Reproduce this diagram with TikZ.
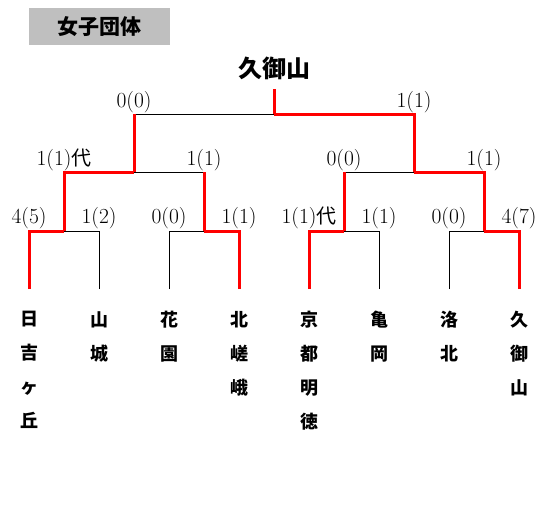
\documentclass[tikz,border=0pt]{standalone}
\usepackage{fontspec}
\newfontfamily\jp{Noto Sans CJK JP}
\definecolor{boxgray}{HTML}{BFBFBF}
\begin{document}
\begin{tikzpicture}[x=1pt,y=-1pt,
  lose/.style={draw=black, line width=1pt},
  win/.style={draw=red, line width=3pt},
  score/.style={font=\fontsize{21.5}{21.5}\selectfont, inner sep=0pt, anchor=base},
  team/.style={font=\jp\bfseries\fontsize{18}{34}\selectfont, inner sep=0pt, anchor=north, align=center},
  titlebox/.style={fill=boxgray, minimum width=141pt, minimum height=37pt, inner sep=0pt,
    font=\jp\bfseries\fontsize{21}{21}\selectfont},
  champion/.style={font=\jp\bfseries\fontsize{24}{24}\selectfont, inner sep=0pt}]
\useasboundingbox (0,0) rectangle (549,517);

% title and champion
\node[titlebox] (title) at (99.5,26.5) {女子団体};
\node[champion] (champ) at (274,68) {久御山};

% coordinates of the bracket
\foreach \i in {1,...,8} {
  \coordinate (A\i) at ({29+70*(\i-1)},289);
}
\coordinate (J1) at (64,231);
\coordinate (J2) at (204,231);
\coordinate (J3) at (344,231);
\coordinate (J4) at (484,231);
\coordinate (J2u) at (204,172);
\coordinate (J3u) at (344,172);
\coordinate (K1) at (134,172);
\coordinate (K2) at (414,172);
\coordinate (K1u) at (134,114);
\coordinate (T) at (274,114);
\coordinate (R) at (274,89);

% losing lines
\draw[lose] (A2) |- (J1);
\draw[lose] (A3) |- (J2);
\draw[lose] (A6) |- (J3);
\draw[lose] (A7) |- (J4);
\draw[lose] (J2u) -- (K1);
\draw[lose] (J3u) -- (K2);
\draw[lose] (K1u) -- (T);

% winning lines
\draw[win] (A1) |- (J1);
\draw[win] (A4) |- (J2);
\draw[win] (A5) |- (J3);
\draw[win] (A8) |- (J4);
\draw[win] (J1) |- (K1);
\draw[win] (J2) -- (J2u);
\draw[win] (J3) -- (J3u);
\draw[win] (J4) |- (K2);
\draw[win] (K1) -- (K1u);
\draw[win] (K2) |- (T);
\draw[win] (T) -- (R);

% scores, top level
\node[score] (s11) at (134,107) {0(0)};
\node[score] (s12) at (414,107) {1(1)};
% scores, second level
\node[score] (s21) at (64,165) {1(1){\jp\fontsize{20}{20}\selectfont 代}};
\node[score] (s22) at (204,165) {1(1)};
\node[score] (s23) at (344,165) {0(0)};
\node[score] (s24) at (484,165) {1(1)};
% scores, first round
\node[score] (s31) at (29,223) {4(5)};
\node[score] (s32) at (99,223) {1(2)};
\node[score] (s33) at (169,223) {0(0)};
\node[score] (s34) at (239,223) {1(1)};
\node[score] (s35) at (309,223) {1(1){\jp\fontsize{20}{20}\selectfont 代}};
\node[score] (s36) at (379,223) {1(1)};
\node[score] (s37) at (449,223) {0(0)};
\node[score] (s38) at (519,223) {4(7)};

% teams
\node[team] (t1) at (29,311) {日\\吉\\ヶ\\丘};
\node[team] (t2) at (99,311) {山\\城};
\node[team] (t3) at (169,311) {花\\園};
\node[team] (t4) at (239,311) {北\\嵯\\峨};
\node[team] (t5) at (309,311) {京\\都\\明\\徳};
\node[team] (t6) at (379,311) {亀\\岡};
\node[team] (t7) at (449,311) {洛\\北};
\node[team] (t8) at (519,311) {久\\御\\山};
\end{tikzpicture}
\end{document}
